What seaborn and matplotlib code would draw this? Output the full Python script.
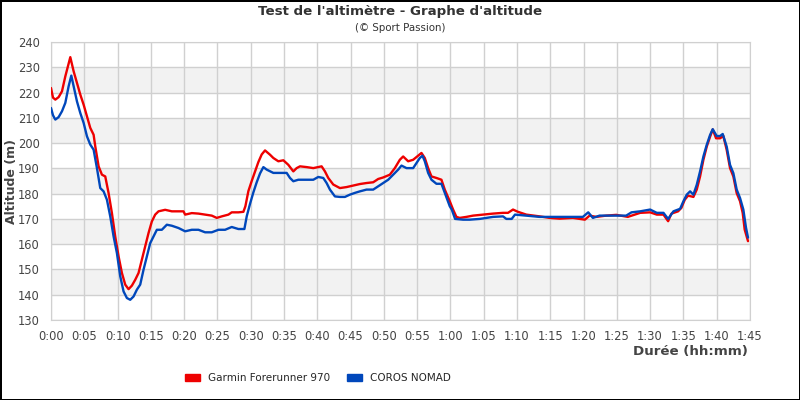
import matplotlib
matplotlib.use("Agg")
import matplotlib.pyplot as plt
from matplotlib.patches import Patch
import pandas as pd
import seaborn as sns

# temps en minutes
t_garmin = [0, 0.3, 0.65, 1.15, 1.65, 2.15, 2.6, 2.9, 3.4, 3.9, 4.4, 4.9, 5.4, 5.9, 6.4, 6.65,
            7.15, 7.65, 8.15, 8.65, 9.15, 9.65, 10.15, 10.65, 11.15, 11.65, 12.15, 12.65, 13.15,
            13.65, 14.15, 14.65, 15.15, 15.65, 16.15, 17.15, 18.15, 19.15, 19.9, 20.15, 21.15,
            22.15, 23.15, 24.15, 24.9, 25.65, 26.65, 27.15, 28.15, 28.9, 29.2, 29.65, 30.15, 30.65,
            31.15, 31.65, 32.15, 32.9, 33.4, 34.15, 34.9, 35.65, 36.4, 36.9, 37.4, 38.4, 39.4,
            40.65, 41.15, 41.65, 42.4, 43.4, 44.4, 45.4, 46.4, 47.4, 48.4, 49.15, 49.9, 50.9,
            51.65, 52.4, 52.9, 53.65, 54.4, 54.9, 55.65, 56.15, 56.65, 57.15, 57.9, 58.65, 59.15,
            59.9, 60.4, 60.9, 61.4, 62.4, 63.4, 64.9, 66.4, 67.9, 68.65, 69.4, 70.15, 71.4, 73.4,
            74.9, 76.4, 78.4, 80.2, 80.9, 81.9, 83.4, 84.9, 86.65, 88.5, 90, 91, 92, 92.7, 93.2,
            94.2, 94.7, 95.2, 95.7, 96.5, 97, 97.5, 98, 98.5, 99, 99.4, 99.9, 100.5, 101, 101.5,
            102, 102.5, 103, 103.5, 103.9, 104.2, 104.7]
alt_garmin = [221.8, 218, 217.2, 218.2, 220.5, 226.4, 231, 234, 228.4, 223.8, 219.2, 215.2, 210.6,
              206, 203.3, 198.7, 190.8, 187.5, 186.8, 180.2, 172.3, 163, 155.2, 148.6, 144, 142.2,
              143.6, 145.9, 148.6, 153.9, 159.1, 164.4, 169, 171.7, 173, 173.6, 173, 173, 173,
              171.7, 172.3, 172.1, 171.7, 171.3, 170.4, 171, 171.7, 172.6, 172.6, 172.8, 175,
              181, 185, 188.8, 192.5, 195.5, 197.1, 195.4, 194.1, 192.8, 193.2, 191.4, 188.8,
              190.1, 190.8, 190.5, 190.1, 190.8, 188.8, 186.2, 183.6, 182.2, 182.6, 183.2, 183.8,
              184.2, 184.5, 185.8, 186.4, 187.5, 190.1, 193.4, 194.7, 192.8, 193.4, 194.5, 196.1,
              194.1, 190.1, 186.8, 186.2, 185.5, 181.6, 177, 173.7, 170.8, 170.4, 170.8, 171.3,
              171.7, 172.1, 172.4, 172.4, 173.7, 172.8, 171.7, 171, 170.4, 170.1, 170.4, 169.7,
              171.3, 170.8, 171.3, 171.6, 170.8, 172.4, 172.6, 171.7, 171.7, 169.1, 172.1, 173,
              174.4, 177.6, 179.2, 178.7, 181.6, 186.8, 193.4, 198.6, 202.5, 205.4, 201.9, 201.9,
              202.8, 197.3, 190.1, 186.8, 180.2, 177, 172.4, 165.8, 161.2]

t_coros = [0, 0.3, 0.65, 1.15, 1.65, 2.15, 2.65, 3.05, 3.4, 3.9, 4.4, 4.9, 5.4, 5.9, 6.4, 6.9, 7.4,
           7.9, 8.4, 8.9, 9.4, 9.9, 10.4, 10.9, 11.4, 11.9, 12.4, 12.9, 13.4, 13.9, 14.4, 14.9,
           15.4, 15.9, 16.65, 17.4, 18.15, 19.15, 20.15, 21.15, 22.15, 23.15, 24.15, 25.15, 26.15,
           27.15, 28.15, 29.05, 29.4, 29.9, 30.4, 30.9, 31.4, 31.9, 32.4, 33.4, 34.4, 35.4, 35.9,
           36.4, 37.15, 38.4, 39.4, 40.15, 40.9, 41.4, 41.9, 42.65, 43.4, 44.15, 44.9, 45.65,
           46.4, 47.4, 48.4, 49.15, 49.9, 50.65, 51.4, 52.15, 52.65, 53.4, 54.4, 54.9, 55.4, 55.8,
           56.15, 56.65, 57.15, 57.9, 58.65, 59.15, 59.9, 60.2, 60.7, 61.9, 62.9, 64.4, 66.4,
           67.9, 68.4, 69.2, 69.7, 71.4, 73.4, 75.9, 78.4, 79.9, 80.7, 81.4, 82.4, 84.4, 86.4,
           87.2, 88.5, 90, 91, 92, 92.7, 93.5, 94.5, 95, 95.5, 96, 96.5, 97, 97.5, 98, 98.5, 99,
           99.4, 100, 100.5, 100.9, 101.5, 102, 102.5, 103, 103.5, 104, 104.4, 104.7]
alt_coros = [213.9, 211, 209.3, 210.3, 212.6, 215.9, 222.5, 226.7, 222.5, 216.5, 211.9, 208, 202.7,
             199.4, 197.4, 190.1, 182.2, 180.9, 177.6, 171, 163.1, 156.5, 147.3, 141.3, 138.7, 138,
             139.3, 142, 144, 149.9, 155.2, 160.4, 163.1, 165.7, 165.7, 167.7, 167.3, 166.4, 165.1,
             165.7, 165.7, 164.7, 164.7, 165.7, 165.7, 166.8, 166, 166, 171, 176, 180.5, 184.5,
             188, 190.5, 189.5, 188.2, 188.2, 188.2, 186.2, 184.9, 185.5, 185.5, 185.5, 186.6,
             186.2, 184.2, 181.6, 178.9, 178.7, 178.7, 179.6, 180.3, 180.9, 181.6, 181.6, 182.9,
             184.2, 185.5, 187.5, 189.5, 191.1, 190.1, 190.1, 192.1, 194.1, 195, 192.8, 188.2,
             185.5, 183.9, 183.9, 180.3, 175, 173.7, 170, 169.7, 169.7, 170, 170.8, 171, 170, 170,
             171.7, 171.3, 170.8, 170.8, 170.8, 170.8, 172.6, 170.4, 171.3, 171.3, 171.3, 172.6,
             173, 173.7, 172.4, 172.4, 170, 173, 174, 177, 179.6, 180.9, 179.6, 183.5, 188.8,
             194.7, 199.3, 203.2, 205.5, 202.8, 202.8, 203.6, 198.6, 191.4, 188.1, 181.6, 178.3,
             173.7, 166.5, 162.6]

montres = ["Garmin Forerunner 970", "COROS NOMAD"]
couleurs = {"Garmin Forerunner 970": "#ee0000", "COROS NOMAD": "#0047bb"}

df = pd.concat([
    pd.DataFrame({"temps": t_garmin, "altitude": alt_garmin, "montre": montres[0]}),
    pd.DataFrame({"temps": t_coros, "altitude": alt_coros, "montre": montres[1]}),
])

sns.set_style("white")
plt.rcParams["font.family"] = ["DejaVu Sans"]

fig = plt.figure(figsize=(8, 4), dpi=100, linewidth=1, edgecolor="black")
ax = fig.add_axes([51 / 800, 80 / 400, 699 / 800, 278 / 400])

# bandes alternées
for y0 in range(140, 240, 20):
    ax.axhspan(y0, y0 + 10, color="#f2f2f2", zorder=0, lw=0)

sns.lineplot(data=df, x="temps", y="altitude", hue="montre", palette=couleurs,
             sort=False, estimator=None, linewidth=1.7, legend=False, ax=ax, zorder=3)

ax.set_xlim(0, 105)
ax.set_ylim(130, 240)
xt = list(range(0, 106, 5))
ax.set_xticks(xt)
ax.set_xticklabels([f"{m // 60}:{m % 60:02d}" for m in xt])
ax.set_yticks(range(130, 241, 10))
ax.tick_params(axis="both", length=0, labelsize=8.3, labelcolor="#444444")
ax.tick_params(axis="y", pad=8)
ax.tick_params(axis="x", pad=7)
ax.grid(True, color="#d0d0d0", linewidth=1, zorder=1)
ax.set_axisbelow(True)
for s in ax.spines.values():
    s.set_color("#d0d0d0")

ax.set_xlabel("")
ax.set_ylabel("")
fig.text(12 / 800, 1 - 181 / 400, "Altitude (m)", rotation=90, ha="center", va="center",
         fontsize=9, fontweight="bold", color="#444444")
fig.text(748 / 800, 1 - 352 / 400, "Durée (hh:mm)", ha="right", va="center",
         fontsize=9.6, fontweight="bold", color="#444444")

fig.text(0.5, 1 - 11 / 400, "Test de l'altimètre - Graphe d'altitude", ha="center", va="center",
         fontsize=9.6, fontweight="bold", color="#333333")
fig.text(0.5, 1 - 28 / 400, "(© Sport Passion)", ha="center", va="center",
         fontsize=7.4, color="#333333")

handles = [Patch(facecolor=couleurs[m], edgecolor=couleurs[m], label=m) for m in montres]
fig.legend(handles=handles, loc="center", bbox_to_anchor=(318 / 800, 1 - 378 / 400), ncol=2,
           frameon=False, fontsize=7.5, handlelength=1.4, handleheight=0.7, handletextpad=0.8,
           columnspacing=1.6)

fig.savefig("out.png", dpi=100, edgecolor=fig.get_edgecolor())
